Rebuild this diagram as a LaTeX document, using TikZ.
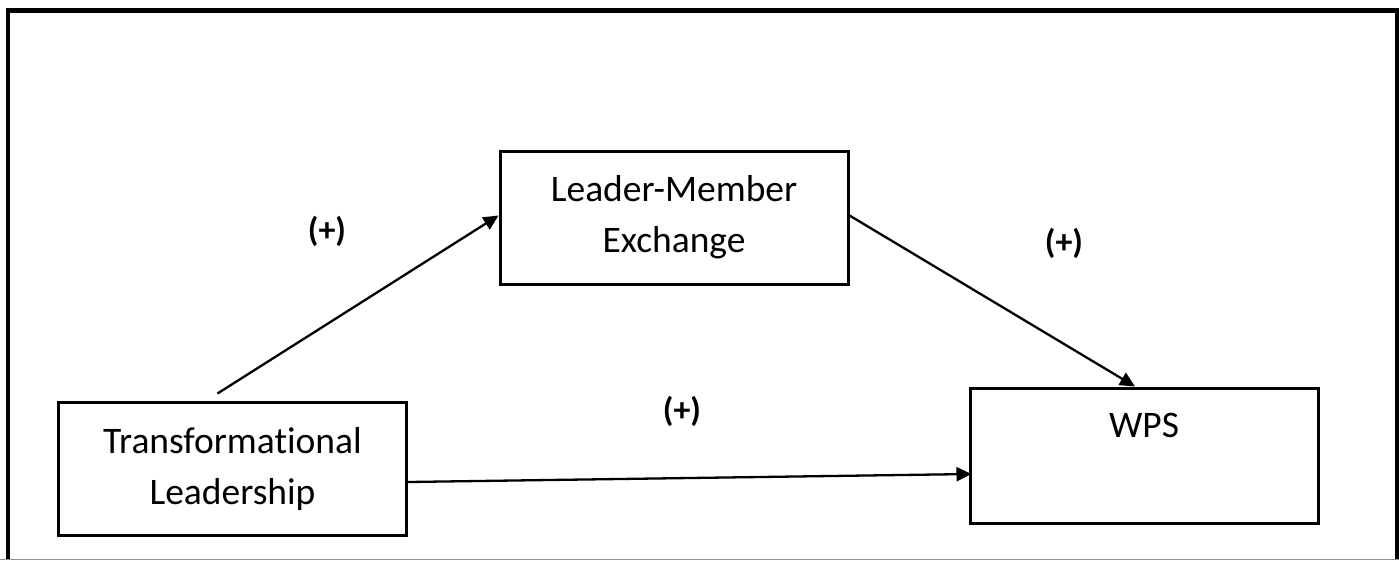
\documentclass[tikz,border=0pt]{standalone}
\usepackage{fontspec}
\setmainfont{Carlito}[Ligatures={NoCommon}]
\usepackage{tikz}
\usetikzlibrary{arrows.meta}
\tikzset{
  every picture/.style={line join=miter, >={Triangle[length=15pt,width=14pt]}},
  varbox/.style={draw, line width=3pt, rectangle, inner sep=0pt, align=center,
    minimum width=348pt, minimum height=133pt,
    font=\fontsize{37.5}{51}\selectfont},
  sign/.style={font=\bfseries\fontsize{34}{40}\selectfont},
  path/.style={line width=2.3pt, ->},
}

\begin{document}
\begin{tikzpicture}[x=1pt, y=-1pt]
\useasboundingbox (0,0) rectangle (1399,560);
% frame
\draw[black!45, line width=1pt] (0,559) -- (1399,559);
\draw[line width=4.5pt] (8,559) |- (1397,10.5) -- (1397,559);
% variables
\node[varbox] (tl) at (232.5,468.5) {Transformational\\Leadership};
\node[varbox] (lmx) at (674,217.5) {Leader-Member\\Exchange};
\node[varbox, minimum height=0pt, text height=49pt, text depth=86pt] (wps) at (1144,455.5) {WPS};
% paths
\draw[path] ([shift={(-15,-7)}]tl.north) -- ([shift={(0,-2)}]lmx.west);
\draw[path] ([shift={(0,-2)}]lmx.east) -- ([shift={(-9,0)}]wps.north);
\draw[path] ([shift={(0,13.5)}]tl.east) -- ([shift={(3,18.5)}]wps.west);
% signs
\node[sign] (s1) at (327,231) {(+)};
\node[sign] (s2) at (1064,243) {(+)};
\node[sign] (s3) at (682,411) {(+)};
\end{tikzpicture}
\end{document}
